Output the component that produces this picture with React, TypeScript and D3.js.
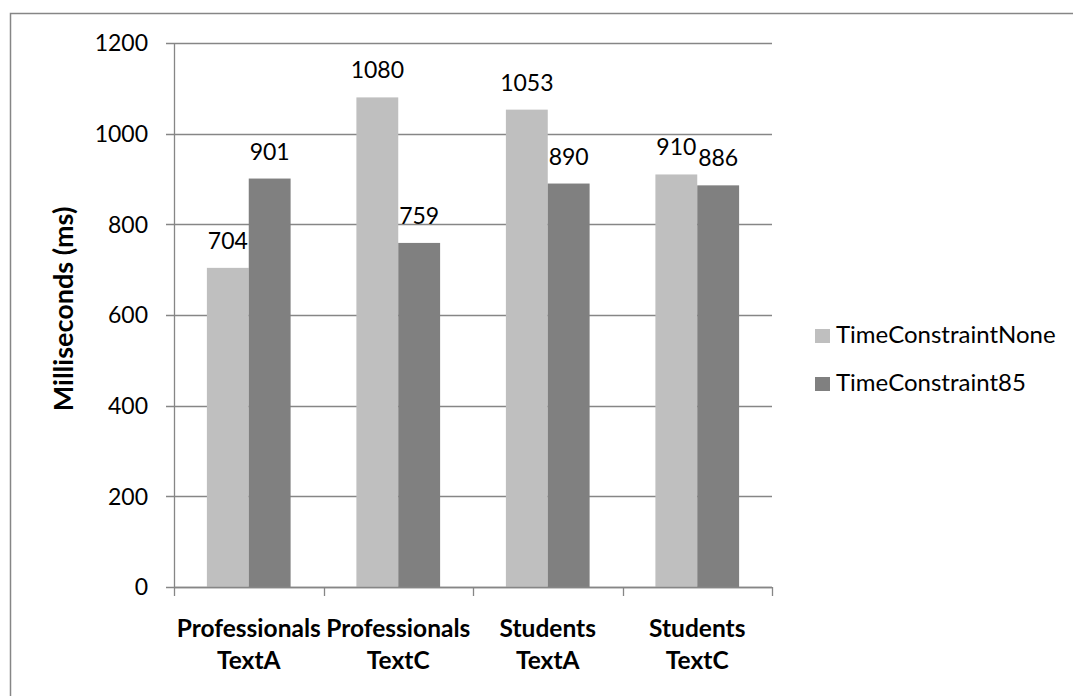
import React from "react";
import * as d3 from "d3";

const categories: string[][] = [
  ["Professionals", "TextA"],
  ["Professionals", "TextC"],
  ["Students", "TextA"],
  ["Students", "TextC"],
];
const seriesNames = ["TimeConstraintNone", "TimeConstraint85"];
const seriesColors = ["#BFBFBF", "#808080"];
const valuesNone = [704, 1080, 1053, 910];
const values85 = [901, 759, 890, 886];
const yTicks = [0, 200, 400, 600, 800, 1000, 1200];
const yTitle = "Milliseconds (ms)";

const W = 1073;
const H = 696;
const FONT = "Lato, 'Open Sans', sans-serif";
const FS = 23;
const FSL = 24;
const FSB = 24.5;
const FST = 27;

export default function App() {
  const left = 174, right = 772, top = 43, bottom = 587;
  const y = d3.scaleLinear().domain([0, 1200]).range([bottom, top]);
  const keys = categories.map((c) => c.join(" "));
  const x = d3.scaleBand<string>().domain(keys).range([left, right]).padding(0);
  const bw = x.bandwidth();
  const inner = d3
    .scaleBand<number>()
    .domain([0, 1])
    .range([bw * 0.22, bw * 0.78])
    .padding(0);
  const series = [valuesNone, values85];
  const gridColor = "#868686";
  const snap = (v: number) => Math.round(v) + 0.5;

  return (
    <svg
      width={W}
      height={H}
      style={{ position: "absolute", left: 0, top: 0, background: "#fff" }}
      fontFamily={FONT}
    >
      <rect x={10.5} y={13.5} width={1200} height={800} fill="#fff" stroke="#868686" strokeWidth={1.5} />
      {/* gridlines + y ticks */}
      {yTicks.map((t) => (
        <g key={t}>
          <line x1={left - 8} x2={right} y1={snap(y(t))} y2={snap(y(t))} stroke={gridColor} strokeWidth={1.3} />
          <text x={148} y={y(t)} dy="0.36em" textAnchor="end" fontSize={FS} fill="#000">
            {t}
          </text>
        </g>
      ))}
      {/* bars */}
      {keys.map((k, i) => (
        <g key={k} transform={`translate(${x(k)},0)`}>
          {series.map((vals, s) => (
            <g key={s}>
              <rect
                x={inner(s)}
                y={y(vals[i])}
                width={inner.bandwidth()}
                height={y(0) - y(vals[i])}
                fill={seriesColors[s]}
              />
              <text
                x={(inner(s) as number) + inner.bandwidth() / 2}
                y={y(vals[i]) - 19}
                textAnchor="middle"
                fontSize={FS}
                fill="#000"
              >
                {vals[i]}
              </text>
            </g>
          ))}
        </g>
      ))}
      {/* axes */}
      <line x1={left + 0.5} x2={left + 0.5} y1={top} y2={bottom} stroke={gridColor} strokeWidth={1.3} />
      <line x1={left} x2={right} y1={snap(y(0))} y2={snap(y(0))} stroke={gridColor} strokeWidth={1.3} />
      {[...keys.map((k) => x(k) as number), right].map((xx, i) => (
        <line key={i} x1={snap(xx)} x2={snap(xx)} y1={bottom} y2={bottom + 9} stroke={gridColor} strokeWidth={1.3} />
      ))}
      {/* category labels */}
      {categories.map((c, i) => {
        const cx = (x(keys[i]) as number) + bw / 2;
        return (
          <text key={i} textAnchor="middle" fontSize={FSB} fontWeight="bold" fill="#000">
            <tspan x={cx} y={637}>{c[0]}</tspan>
            <tspan x={cx} y={669}>{c[1]}</tspan>
          </text>
        );
      })}
      {/* y title */}
      <text
        transform={`translate(73,309) rotate(-90)`}
        textAnchor="middle"
        fontSize={FST}
        fontWeight="bold"
        fill="#000"
      >
        {yTitle}
      </text>
      {/* legend */}
      {seriesNames.map((n, i) => (
        <g key={n} transform={`translate(815,${343 + i * 48})`}>
          <rect x={0} y={-14} width={15} height={14} fill={seriesColors[i]} />
          <text x={21} y={0} fontSize={FSL} fill="#000">
            {n}
          </text>
        </g>
      ))}
    </svg>
  );
}
